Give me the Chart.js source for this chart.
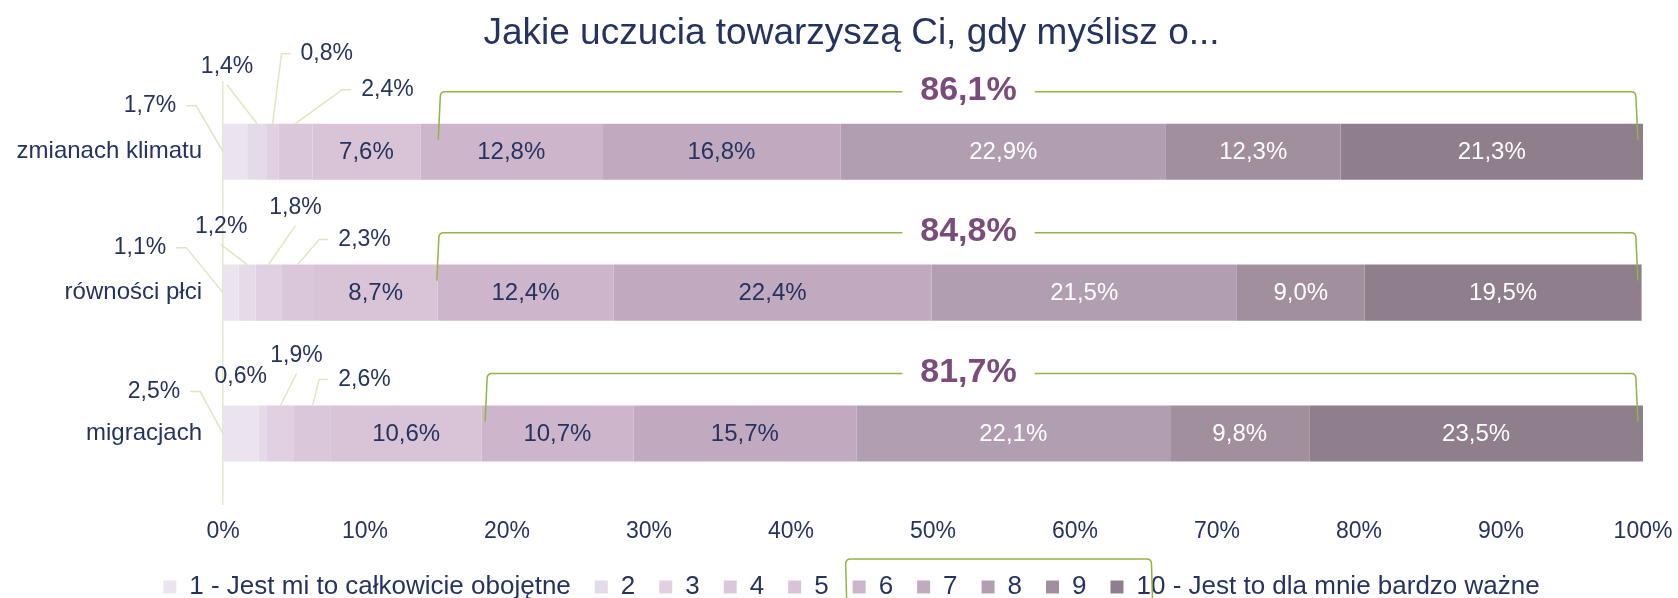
<!DOCTYPE html>
<html><head><meta charset="utf-8">
<script src="https://cdn.jsdelivr.net/npm/chart.js@4.4.0/dist/chart.umd.min.js"></script>
<style>html,body{margin:0;padding:0;background:#fff}#wrap{width:1678px;height:598px;position:relative}</style>
</head><body><div id="wrap"><canvas id="c" width="1678" height="598"></canvas></div>
<script>
// ---- data ----
const categories = ['zmianach klimatu', 'równości płci', 'migracjach'];
const seriesLabels = ['1 - Jest mi to całkowicie obojętne', '2', '3', '4', '5', '6', '7', '8', '9', '10 - Jest to dla mnie bardzo ważne'];
const s1 = [1.7, 1.1, 2.5];
const s2 = [1.4, 1.2, 0.6];
const s3 = [0.8, 1.8, 1.9];
const s4 = [2.4, 2.3, 2.6];
const s5 = [7.6, 8.7, 10.6];
const s6 = [12.8, 12.4, 10.7];
const s7 = [16.8, 22.4, 15.7];
const s8 = [22.9, 21.5, 22.1];
const s9 = [12.3, 9.0, 9.8];
const s10 = [21.3, 19.5, 23.5];
const topTotals = [86.1, 84.8, 81.7];      // share of answers 6-10
const bracketFrom = [15.3, 15.2, 18.6];    // bracket extent on the % axis
const bracketTo = [99.5, 99.5, 99.5];
const totalLabelAt = 52.5;
const xTickStep = 10;
const titleText = 'Jakie uczucia towarzyszą Ci, gdy myślisz o...';

// ---- styles ----
const FAM = "'Liberation Sans', Arial, sans-serif";
const NAVY = '#25335f';
const PURPLE = '#7a4c7b';
const BRACKET = '#92b441';
const LEADER = '#dfe6c1';
const colors = ['#ebe3ed', '#e5dae8', '#e0d0e2', '#dbc7da', '#d8c3d7', '#cdb6cc', '#c1aabf', '#b19eb0', '#a28f9e', '#8f7e8c'];
// callout label offsets (px) from each small segment's anchor
const calloutOffsets = [
  [[-73, -46], [-30, -57], [54, -70], [92, -34]],
  [[-83, -45], [-26, -38], [27, -57], [67, -25]],
  [[-69, -42], [-22, -29], [16, -50], [52, -26]]
];

const seriesData = [s1, s2, s3, s4, s5, s6, s7, s8, s9, s10];
const fmt = v => v.toFixed(1).replace('.', ',') + '%';

const annot = {
  id: 'annot',
  afterDatasetsDraw(chart) {
    const ctx = chart.ctx, xs = chart.scales.x, ys = chart.scales.y;
    ctx.save();
    ctx.textAlign = 'center'; ctx.textBaseline = 'middle';
    ctx.font = '24px ' + FAM;
    for (let d = 4; d < 10; d++) {
      chart.getDatasetMeta(d).data.forEach((bar, i) => {
        const p = bar.getProps(['x', 'base', 'y'], true);
        ctx.fillStyle = d >= 7 ? '#ffffff' : NAVY;
        ctx.fillText(fmt(seriesData[d][i]), (p.x + p.base) / 2, p.y + 1);
      });
    }
    ctx.font = '23px ' + FAM;
    for (let d = 0; d < 4; d++) {
      chart.getDatasetMeta(d).data.forEach((bar, i) => {
        const p = bar.getProps(['x', 'base', 'y', 'height'], true);
        const ax = d === 0 ? p.base : (p.x + p.base) / 2;
        const ay = d === 0 ? p.y : p.y - p.height / 2;
        const [dx, dy] = calloutOffsets[i][d];
        const lx = ax + dx, ly = ay + dy;
        const txt = fmt(seriesData[d][i]);
        const w = ctx.measureText(txt).width;
        ctx.strokeStyle = LEADER; ctx.lineWidth = 1.5;
        ctx.beginPath();
        if (Math.abs(dx) >= 45) {
          if (dx < 0) { const sx = lx + w / 2 + 10; ctx.moveTo(sx, ly); ctx.lineTo(sx + 10, ly); }
          else { const sx = lx - w / 2 - 10; ctx.moveTo(sx, ly); ctx.lineTo(sx - 9, ly); }
          ctx.lineTo(ax, ay); ctx.stroke();
        } else if (dy < -35) {
          ctx.moveTo(lx, ly + 18); ctx.lineTo(ax, ay); ctx.stroke();
        }
        ctx.fillStyle = NAVY;
        ctx.fillText(txt, lx, ly);
      });
    }
    ctx.font = 'bold 34px ' + FAM;
    categories.forEach((c, i) => {
      const cy = ys.getPixelForValue(i);
      const top = cy - 60, bot = cy - 12;
      const xl = xs.getPixelForValue(bracketFrom[i]), xr = xs.getPixelForValue(bracketTo[i]);
      const xm = xs.getPixelForValue(totalLabelAt);
      const t = fmt(topTotals[i]);
      const tw = ctx.measureText(t).width;
      const r = 5;
      ctx.strokeStyle = BRACKET; ctx.lineWidth = 1.5;
      ctx.beginPath();
      ctx.moveTo(xl - 2, bot); ctx.lineTo(xl, top + r); ctx.quadraticCurveTo(xl, top, xl + r, top);
      ctx.lineTo(xm - tw / 2 - 18, top);
      ctx.moveTo(xm + tw / 2 + 18, top); ctx.lineTo(xr - r, top);
      ctx.quadraticCurveTo(xr, top, xr, top + r); ctx.lineTo(xr + 2, bot);
      ctx.stroke();
      ctx.fillStyle = PURPLE;
      ctx.fillText(t, xm, top - 1);
    });
    ctx.restore();
  },
  afterDraw(chart) {
    const lg = chart.legend; if (!lg || !lg.legendHitBoxes) return;
    const hb = lg.legendHitBoxes;
    const ctx = chart.ctx;
    const l = hb[5].left - 7, r = hb[9].left + 41;
    const top = hb[5].top + hb[5].height / 2 - 28, bot = 600, rad = 5;
    ctx.save();
    ctx.strokeStyle = BRACKET; ctx.lineWidth = 1.5;
    ctx.beginPath();
    ctx.moveTo(l + 1, bot); ctx.lineTo(l, top + rad); ctx.quadraticCurveTo(l, top, l + rad, top);
    ctx.lineTo(r - rad, top); ctx.quadraticCurveTo(r, top, r, top + rad); ctx.lineTo(r + 1, bot);
    ctx.stroke();
    ctx.restore();
  }
};

Chart.defaults.font.family = FAM;
Chart.defaults.color = NAVY;

new Chart(document.getElementById('c'), {
  type: 'bar',
  data: {
    labels: categories,
    datasets: seriesData.map((arr, k) => ({
      label: seriesLabels[k],
      data: arr,
      backgroundColor: colors[k],
      borderWidth: 0,
      barPercentage: 0.398,
      categoryPercentage: 1
    }))
  },
  options: {
    indexAxis: 'y',
    responsive: false,
    animation: false,
    layout: { padding: { left: 0, right: -25, top: 0, bottom: -12 } },
    scales: {
      x: {
        stacked: true, min: 0, max: 100,
        grid: { display: false, drawTicks: false },
        border: { display: false },
        ticks: { stepSize: xTickStep, padding: 14, color: NAVY, font: { size: 23 }, callback: v => v + '%' },
        afterFit(s) { s.height = 46; s.paddingRight = 0; s.paddingLeft = 0; }
      },
      y: {
        stacked: true,
        grid: { display: false, drawTicks: false },
        border: { display: true, color: '#e4e9cb', width: 1.5 },
        ticks: { padding: 21, color: NAVY, font: { size: 24 } },
        afterFit(s) { s.width = 223; }
      },
      yRightSpace: {
        type: 'linear', position: 'right', display: true,
        grid: { display: false, drawTicks: false },
        border: { display: false },
        ticks: { display: false },
        afterFit(s) { s.width = 60; }
      }
    },
    plugins: {
      title: { display: true, text: titleText, color: NAVY, font: { size: 37, weight: 'normal' }, padding: { top: 12, bottom: 24.9 } },
      legend: {
        position: 'bottom',
        labels: { color: NAVY, font: { size: 26 }, boxWidth: 13, boxHeight: 13, padding: 24 }
      },
      tooltip: { enabled: false }
    }
  },
  plugins: [annot]
});
</script></body></html>
